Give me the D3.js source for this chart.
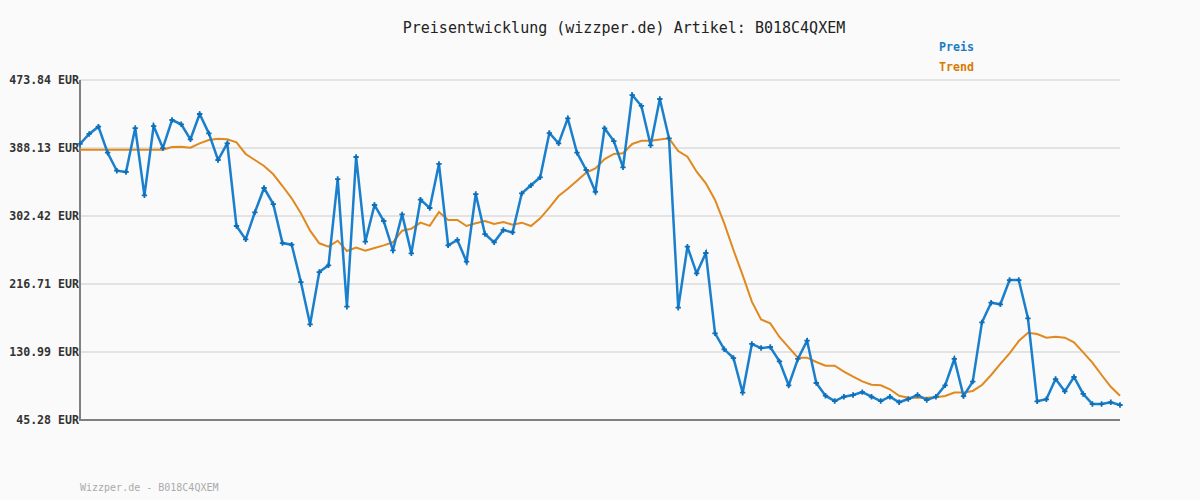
<!DOCTYPE html>
<html>
<head>
<meta charset="utf-8">
<script src="https://cdn.jsdelivr.net/npm/d3@7"></script>
<style>
  body { margin: 0; background: #fafafa; }
  #chart text { font-family: "DejaVu Sans Mono", monospace; }
</style>
</head>
<body>
<div id="chart"></div>
<script>
// price values (EUR), one per observation
var preis = [393.2, 405.8, 415.0, 382.2, 359.5, 357.9, 413.3, 328.5, 415.8, 388.1,
  423.4, 418.0, 399.1, 431.0, 406.6, 373.0, 394.0, 289.8, 273.0, 307.1,
  337.7, 317.5, 268.3, 266.3, 219.2, 165.9, 231.8, 240.2, 349.0, 188.1,
  376.8, 270.0, 316.3, 296.1, 259.2, 304.5, 255.4, 323.0, 312.5, 368.0,
  265.4, 272.2, 244.8, 330.1, 279.7, 269.2, 284.8, 281.8, 331.0, 341.1,
  351.2, 407.0, 394.0, 425.5, 382.2, 360.4, 333.0, 412.9, 396.9, 363.7,
  454.9, 441.1, 391.5, 449.9, 400.3, 186.8, 263.7, 230.2, 255.8, 154.5,
  134.4, 123.4, 79.7, 141.1, 136.0, 137.3, 119.2, 89.0, 122.2, 145.3,
  91.9, 75.9, 69.2, 74.6, 76.8, 80.5, 74.6, 69.2, 74.6, 67.6,
  71.7, 76.8, 70.5, 74.6, 89.0, 122.2, 75.5, 93.6, 168.4, 193.1,
  191.1, 221.7, 221.7, 173.5, 68.8, 71.4, 96.9, 81.4, 99.5, 78.1,
  65.4, 65.4, 67.6, 64.2];

// trend line values (EUR)
var trend = [386.0, 386.0, 386.0, 386.0, 386.0, 386.0, 386.0, 386.0, 386.0, 386.0,
  389.4, 389.8, 388.5, 394.0, 398.2, 399.9, 399.1, 395.3, 380.6, 373.0,
  365.4, 355.0, 340.2, 324.7, 305.8, 283.9, 268.0, 263.8, 271.3, 258.3,
  262.5, 258.7, 262.1, 265.4, 269.3, 283.9, 286.4, 294.0, 290.0, 307.4,
  297.4, 297.4, 289.8, 293.2, 296.1, 292.3, 294.8, 291.5, 294.0, 289.8,
  299.5, 312.9, 327.6, 336.8, 346.9, 357.0, 362.5, 374.2, 380.6, 381.5,
  393.2, 397.3, 397.3, 398.7, 400.3, 384.3, 377.2, 358.3, 343.6, 322.6,
  293.2, 259.5, 228.0, 194.4, 172.1, 167.1, 149.9, 136.9, 123.8, 123.8,
  118.4, 113.8, 113.8, 106.2, 99.9, 94.0, 89.8, 89.0, 84.0, 75.9,
  73.4, 73.4, 73.4, 73.9, 75.5, 80.0, 79.8, 81.9, 89.4, 102.0,
  115.9, 129.3, 144.8, 155.3, 153.6, 149.0, 150.3, 149.0, 143.1, 130.5,
  117.5, 102.0, 87.2, 75.9];

var yTicks = [45.28, 130.99, 216.71, 302.42, 388.13, 473.84];
var yLabels = ["45.28 EUR", "130.99 EUR", "216.71 EUR", "302.42 EUR", "388.13 EUR", "473.84 EUR"];
var seriesNames = ["Preis", "Trend"];
var seriesColors = ["#1a7fcc", "#e0891e"];

var width = 1200, height = 500;
var margin = {top: 80, right: 80, bottom: 80, left: 80};

var svg = d3.select("#chart")
    .append("svg")
        .attr("width", width)
        .attr("height", height)
        .style("background", "#fafafa");

var x = d3.scaleLinear()
    .domain([0, preis.length - 1])
    .range([margin.left, width - margin.right]);

var y = d3.scaleLinear()
    .domain([yTicks[0], yTicks[yTicks.length - 1]])
    .range([height - margin.bottom, margin.top]);

// grid lines
svg.append("g")
    .selectAll("line")
    .data(yTicks)
    .enter()
    .append("line")
        .attr("x1", margin.left)
        .attr("x2", width - margin.right)
        .attr("y1", d => y(d))
        .attr("y2", d => y(d))
        .attr("stroke", "#e3e3e3")
        .attr("stroke-width", 2);

// y labels
svg.append("g")
    .selectAll("text")
    .data(yTicks)
    .enter()
    .append("text")
        .attr("x", margin.left - 1)
        .attr("y", d => y(d) + 4)
        .attr("text-anchor", "end")
        .attr("font-size", 11.6)
        .attr("font-weight", "bold")
        .attr("fill", "#333")
        .text((d, i) => yLabels[i]);

// axes lines
svg.append("line")
    .attr("x1", margin.left).attr("x2", margin.left)
    .attr("y1", y(yTicks[yTicks.length - 1])).attr("y2", y(yTicks[0]) + 1)
    .attr("stroke", "#808080").attr("stroke-width", 2);
svg.append("line")
    .attr("x1", margin.left).attr("x2", width - margin.right)
    .attr("y1", y(yTicks[0])).attr("y2", y(yTicks[0]))
    .attr("stroke", "#808080").attr("stroke-width", 2);

var line = d3.line()
    .x((d, i) => x(i))
    .y(d => y(d));

svg.append("path")
    .datum(trend)
    .attr("fill", "none")
    .attr("stroke", seriesColors[1])
    .attr("stroke-width", 2)
    .attr("d", line);

svg.append("path")
    .datum(preis)
    .attr("fill", "none")
    .attr("stroke", seriesColors[0])
    .attr("stroke-width", 2.5)
    .attr("d", line);

svg.append("g")
    .selectAll("path")
    .data(preis)
    .enter()
    .append("path")
        .attr("transform", (d, i) => "translate(" + x(i) + "," + y(d) + ")")
        .attr("d", d3.symbol().type(d3.symbolCross).size(16))
        .attr("fill", "#0d6fb8");

// title
svg.append("text")
    .attr("x", 624)
    .attr("y", 33)
    .attr("text-anchor", "middle")
    .attr("font-size", 15)
    .attr("fill", "#222")
    .text("Preisentwicklung (wizzper.de) Artikel: B018C4QXEM");

// legend
svg.append("g")
    .selectAll("text")
    .data(seriesNames)
    .enter()
    .append("text")
        .attr("x", 939)
        .attr("y", (d, i) => 51 + i * 20)
        .attr("font-size", 11.6)
        .attr("font-weight", "bold")
        .attr("fill", (d, i) => i === 0 ? "#1a7dc0" : "#d97a00")
        .text(d => d);

// footer
svg.append("text")
    .attr("x", 80)
    .attr("y", 491)
    .attr("font-size", 10)
    .attr("fill", "#aaa")
    .text("Wizzper.de - B018C4QXEM");
</script>
</body>
</html>
